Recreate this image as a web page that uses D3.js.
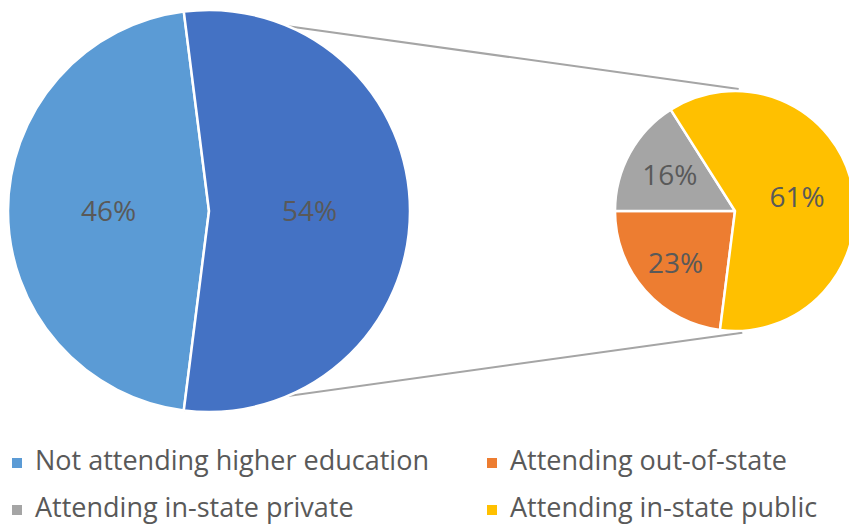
<!DOCTYPE html>
<html>
<head>
<meta charset="utf-8">
<script src="https://cdn.jsdelivr.net/npm/d3@7"></script>
<style>
  html, body { margin: 0; padding: 0; background: #fff; }
  svg { display: block; }
  text { font-family: "Open Sans", "DejaVu Sans", sans-serif; fill: #595959; }
</style>
</head>
<body>
<svg id="chart" width="849" height="525"></svg>
<script>
// Primary pie: share of graduates attending vs. not attending higher education
const mainCategories = ["Not attending higher education", "Attending"];
const mainValues = [46, 54];
const mainColors = ["#5B9BD5", "#4472C4"];

// Secondary pie: breakdown of those attending
const subCategories = ["Attending out-of-state", "Attending in-state private", "Attending in-state public"];
const subValues = [23, 16, 61];
const subColors = ["#ED7D31", "#A5A5A5", "#FFC000"];

// Legend entries (two columns, two rows)
const legendLabels = ["Not attending higher education", "Attending out-of-state", "Attending in-state private", "Attending in-state public"];
const legendColors = ["#5B9BD5", "#ED7D31", "#A5A5A5", "#FFC000"];

const svg = d3.select("#chart");

const mainCx = 209, mainCy = 211, mainR = 201;
const subCx = 735, subCy = 211, subR = 120;

// The "attending" slice of the primary pie is centred on the right-hand side.
const attendShare = mainValues[1] / d3.sum(mainValues);
const halfSpan = attendShare * Math.PI;          // half the angular span of the slice
const attendStart = Math.PI / 2 - halfSpan;
const attendEnd = Math.PI / 2 + halfSpan;

const mainPie = d3.pie().sort(null).value(d => d)
  .startAngle(attendEnd - 2 * Math.PI).endAngle(attendEnd);
// order: not-attending first, then attending, so attending ends at attendEnd
const mainArcs = mainPie(mainValues);

const arcMain = d3.arc().innerRadius(0).outerRadius(mainR);
const arcMainLabel = d3.arc().innerRadius(mainR * 0.5).outerRadius(mainR * 0.5);

// Connector lines from the attending slice edges to the top/bottom of the secondary pie
const edgePt = (a, r, cx, cy) => [cx + r * Math.sin(a), cy - r * Math.cos(a)];
const pTop = edgePt(attendStart, mainR, mainCx, mainCy);
const pBot = edgePt(attendEnd, mainR, mainCx, mainCy);
const sTop = edgePt(0.03, subR + 2, subCx, subCy);
const sBot = edgePt(Math.PI - 0.06, subR + 2, subCx, subCy);

svg.append("line").attr("x1", pTop[0]).attr("y1", pTop[1]).attr("x2", sTop[0]).attr("y2", sTop[1])
  .attr("stroke", "#A5A5A5").attr("stroke-width", 2);
svg.append("line").attr("x1", pBot[0]).attr("y1", pBot[1]).attr("x2", sBot[0]).attr("y2", sBot[1])
  .attr("stroke", "#A5A5A5").attr("stroke-width", 2);

const gMain = svg.append("g").attr("transform", `translate(${mainCx},${mainCy})`);
gMain.selectAll("path").data(mainArcs).join("path")
  .attr("d", arcMain)
  .attr("fill", (d, i) => mainColors[i])
  .attr("stroke", "#fff").attr("stroke-width", 2.5).attr("stroke-linejoin", "round");
gMain.selectAll("text").data(mainArcs).join("text")
  .attr("transform", d => `translate(${arcMainLabel.centroid(d)})`)
  .attr("text-anchor", "middle").attr("dy", "0.36em")
  .style("font-size", "28px")
  .text(d => d.data + "%");

// Secondary pie: out-of-state starts where the primary's attending slice ends,
// running clockwise round to the same angle
const subPie = d3.pie().sort(null).value(d => d)
  .startAngle(attendEnd).endAngle(attendEnd + 2 * Math.PI);
const subArcs = subPie(subValues);
const arcSub = d3.arc().innerRadius(0).outerRadius(subR);
const subLabelFactor = [0.66, 0.62, 0.53];

const gSub = svg.append("g").attr("transform", `translate(${subCx},${subCy})`);
gSub.selectAll("path").data(subArcs).join("path")
  .attr("d", arcSub)
  .attr("fill", (d, i) => subColors[i])
  .attr("stroke", "#fff").attr("stroke-width", 2.5).attr("stroke-linejoin", "round");
gSub.selectAll("text").data(subArcs).join("text")
  .attr("transform", (d, i) => {
    const r = subR * subLabelFactor[i];
    return `translate(${d3.arc().innerRadius(r).outerRadius(r).centroid(d)})`;
  })
  .attr("text-anchor", "middle").attr("dy", "0.36em")
  .style("font-size", "28px")
  .text(d => d.data + "%");

// Legend
const colX = [12, 487];
const rowY = [470, 517];
const gLeg = svg.append("g");
legendLabels.forEach((lab, i) => {
  const x = colX[i % 2], y = rowY[Math.floor(i / 2)];
  gLeg.append("rect").attr("x", x).attr("y", y - 12).attr("width", 10).attr("height", 10)
    .attr("fill", legendColors[i]);
  gLeg.append("text").attr("x", x + 23).attr("y", y)
    .style("font-size", "27px")
    .text(lab);
});
</script>
</body>
</html>
